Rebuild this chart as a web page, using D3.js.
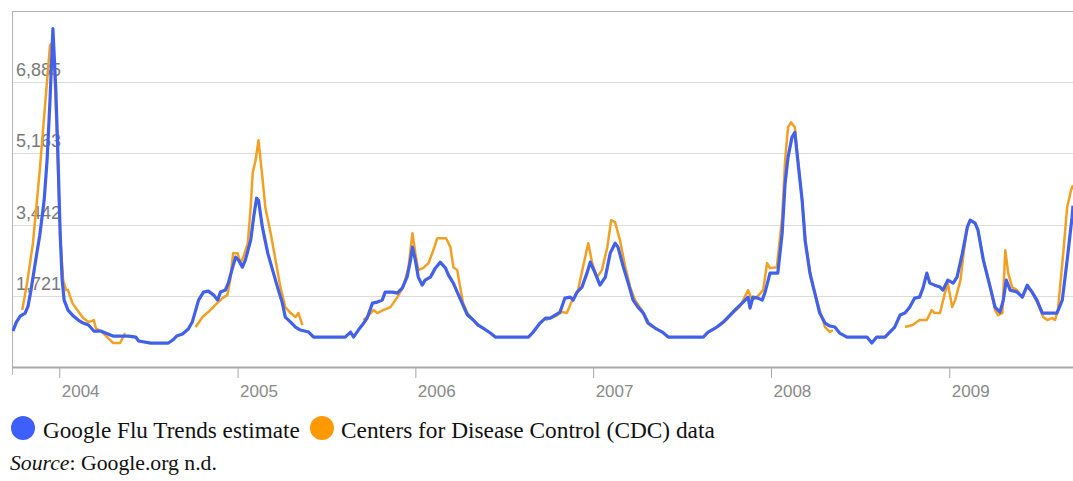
<!DOCTYPE html>
<html><head><meta charset="utf-8">
<script src="https://cdn.jsdelivr.net/npm/d3@7"></script>
<style>body{margin:0;background:#fff}svg{display:block}</style>
</head><body><svg id="c" width="1073" height="481"></svg>
<script>
const yearTicks = ["2004-01-01","2005-01-01","2006-01-01","2007-01-01","2008-01-01","2009-01-01"];
const yearLabels = ["2004","2005","2006","2007","2008","2009"];
const gridValues = [1721.25, 3442.5, 5163.75, 6885];
const gridLabels = ["1,721","3,442","5,163","6,885"];
const xDomain = ["2003-09-26","2009-09-12"];
const yMax = 8606.25;

const googleDates = ["2003-09-28","2003-10-05","2003-10-13","2003-10-23","2003-10-29","2003-11-04","2003-11-12","2003-11-22","2003-12-01","2003-12-07","2003-12-13","2003-12-19","2003-12-25","2003-12-29","2004-01-03","2004-01-07","2004-01-11","2004-01-19","2004-01-30","2004-02-09","2004-02-19","2004-03-01","2004-03-12","2004-03-26","2004-04-05","2004-04-20","2004-05-22","2004-06-06","2004-06-12","2004-07-07","2004-08-12","2004-08-21","2004-08-29","2004-09-10","2004-09-22","2004-09-30","2004-10-13","2004-10-23","2004-11-02","2004-11-13","2004-11-21","2004-11-27","2004-12-07","2004-12-13","2004-12-22","2004-12-28","2005-01-03","2005-01-11","2005-01-17","2005-01-28","2005-02-03","2005-02-09","2005-02-13","2005-02-21","2005-03-04","2005-03-14","2005-03-24","2005-04-03","2005-04-09","2005-04-20","2005-04-30","2005-05-10","2005-05-27","2005-06-06","2005-08-10","2005-08-21","2005-08-27","2005-09-06","2005-09-14","2005-09-24","2005-10-05","2005-10-15","2005-10-25","2005-10-31","2005-11-15","2005-11-25","2005-12-05","2005-12-15","2005-12-22","2005-12-26","2006-01-01","2006-01-07","2006-01-15","2006-01-21","2006-02-01","2006-02-11","2006-02-21","2006-03-04","2006-03-10","2006-03-20","2006-03-28","2006-04-07","2006-04-18","2006-04-30","2006-05-10","2006-05-20","2006-06-04","2006-06-14","2006-08-21","2006-08-31","2006-09-14","2006-09-25","2006-10-05","2006-10-15","2006-10-25","2006-11-04","2006-11-15","2006-11-21","2006-11-29","2006-12-09","2006-12-20","2006-12-26","2007-01-05","2007-01-15","2007-01-26","2007-02-05","2007-02-15","2007-02-21","2007-03-04","2007-03-14","2007-03-24","2007-04-03","2007-04-14","2007-04-24","2007-05-08","2007-05-23","2007-06-04","2007-08-15","2007-08-25","2007-09-12","2007-09-25","2007-10-09","2007-10-23","2007-11-05","2007-11-15","2007-11-19","2007-11-25","2007-12-05","2007-12-14","2007-12-20","2007-12-30","2008-01-09","2008-01-15","2008-01-24","2008-01-30","2008-02-05","2008-02-13","2008-02-19","2008-02-25","2008-03-05","2008-03-11","2008-03-21","2008-03-31","2008-04-10","2008-04-21","2008-05-01","2008-05-11","2008-05-21","2008-06-05","2008-07-16","2008-07-26","2008-08-05","2008-08-22","2008-09-01","2008-09-11","2008-09-22","2008-10-02","2008-10-12","2008-10-22","2008-11-01","2008-11-08","2008-11-16","2008-11-22","2008-12-02","2008-12-13","2008-12-19","2008-12-29","2009-01-09","2009-01-17","2009-01-28","2009-02-07","2009-02-13","2009-02-23","2009-03-01","2009-03-12","2009-03-26","2009-04-05","2009-04-15","2009-04-22","2009-04-28","2009-05-06","2009-05-20","2009-05-31","2009-06-10","2009-06-20","2009-06-30","2009-07-11","2009-07-21","2009-08-10","2009-08-21","2009-08-31","2009-09-10","2009-09-12"];
const googleValues = [869,1086,1231,1304,1473,1859,2462,3186,4031,4997,6445,8183,6687,5238,3186,2100,1617,1376,1231,1135,1062,1014,869,869,821,748,748,724,628,579,579,652,748,797,917,1086,1617,1811,1835,1738,1617,1811,1859,2028,2414,2655,2583,2414,2583,3066,3621,4080,4031,3380,2752,2342,1931,1545,1207,1086,966,893,845,724,724,845,724,893,1014,1183,1545,1569,1617,1811,1811,1786,1907,2173,2583,2897,2583,2173,1979,2100,2173,2390,2535,2390,2221,2028,1811,1545,1255,1135,1014,941,821,724,724,845,1062,1183,1183,1255,1328,1666,1690,1617,1811,1931,2293,2535,2269,1979,2173,2752,2993,2897,2414,2028,1617,1448,1304,1062,941,845,724,724,845,966,1086,1255,1424,1569,1690,1424,1690,1666,1617,1811,2269,2269,2269,3235,4442,5069,5552,5673,4997,4031,3066,2269,1786,1304,1062,990,966,821,724,724,579,724,724,845,966,1255,1304,1448,1666,1690,1907,2269,2028,1979,1931,1859,2100,2028,2173,2752,3380,3549,3476,3307,2583,1931,1448,1328,1617,2100,1859,1811,1690,1979,1811,1617,1304,1304,1304,1617,2583,3621,3900];

const cdcDates = ["2003-10-17","2003-10-27","2003-11-08","2003-11-22","2003-12-02","2003-12-13","2003-12-16","2003-12-22","2003-12-28","2004-01-03","2004-01-09","2004-01-15","2004-01-19","2004-01-28","2004-02-07","2004-02-19","2004-03-01","2004-03-12","2004-03-16","2004-03-31","2004-04-21","2004-05-05","2004-05-15","2004-07-01",
"2004-10-07","2004-10-21","2004-11-02","2004-11-16","2004-12-01","2004-12-11","2004-12-17","2004-12-23","2005-01-01","2005-01-07","2005-01-13","2005-01-22","2005-01-28","2005-02-01","2005-02-07","2005-02-13","2005-02-21","2005-02-27","2005-03-10","2005-03-20","2005-03-30","2005-04-09","2005-04-20","2005-04-30","2005-05-06","2005-05-14","2005-07-01",
"2005-09-16","2005-09-24","2005-10-07","2005-10-15","2005-10-27","2005-11-11","2005-11-25","2005-12-07","2005-12-18","2005-12-26","2006-01-01","2006-01-07","2006-01-17","2006-01-28","2006-02-07","2006-02-15","2006-03-05","2006-03-14","2006-03-20","2006-03-28","2006-04-03","2006-04-09","2006-04-18","2006-04-30","2006-05-10","2006-07-01",
"2006-09-25","2006-10-05","2006-10-17","2006-10-29","2006-11-08","2006-11-19","2006-12-01","2006-12-11","2006-12-22","2006-12-30","2007-01-09","2007-01-19","2007-01-30","2007-02-07","2007-02-15","2007-02-25","2007-03-08","2007-03-18","2007-03-28","2007-04-11","2007-04-22","2007-05-02","2007-07-01",
"2007-09-14","2007-09-29","2007-10-13","2007-10-30","2007-11-15","2007-11-23","2007-12-05","2007-12-16","2007-12-24","2007-12-30","2008-01-13","2008-01-24","2008-01-30","2008-02-05","2008-02-11","2008-02-19","2008-02-25","2008-03-05","2008-03-13","2008-03-23","2008-04-04","2008-04-13","2008-04-21","2008-05-01","2008-05-07","2008-07-01",
"2008-10-02","2008-10-18","2008-11-01","2008-11-16","2008-11-26","2008-12-02","2008-12-13","2008-12-23","2008-12-29","2009-01-07","2009-01-13","2009-01-24","2009-01-30","2009-02-07","2009-02-13","2009-02-23","2009-03-01","2009-03-12","2009-03-26","2009-04-05","2009-04-11","2009-04-20","2009-04-26","2009-05-02","2009-05-10","2009-05-20","2009-05-31","2009-06-10","2009-06-20","2009-06-30","2009-07-13","2009-07-21","2009-07-31","2009-08-06","2009-08-12","2009-08-23","2009-08-31","2009-09-08","2009-09-12"];
const cdcValues = [1376,2028,2993,4756,6204,7773,7820,7200,5300,3150,2100,1859,1859,1545,1376,1183,1086,1135,941,821,579,579,821,null,
966,1207,1328,1497,1666,1738,2100,2752,2752,2511,2655,2993,3862,4683,4997,5480,4587,3862,3235,2583,1931,1448,1304,1207,1304,1014,null,
1135,1207,1376,1304,1376,1448,1690,1931,2414,3235,2752,2342,2390,2511,2824,3114,3114,2897,2414,2342,1931,1545,1304,1135,990,null,
1135,1183,1231,1328,1304,1617,1859,2414,2993,2511,2173,2342,2897,3549,3500,3066,2414,1931,1617,1376,1062,966,null,
966,1110,1280,1473,1859,1617,1714,1859,2511,2390,2414,3621,4997,5794,5914,5794,5069,4031,2945,2148,1617,1255,966,845,893,null,
966,1014,1135,1135,1376,1304,1304,1786,2028,1448,1617,2100,2704,3380,3549,3476,3307,2583,1931,1376,1255,1304,2824,2269,1931,1859,1690,1931,1811,1569,1207,1135,1183,1135,1376,2752,3862,4273,4394];

const seriesNames = ["Google Flu Trends estimate","Centers for Disease Control (CDC) data"];
const seriesColors = ["#3f5ffd","#ff9900"];

const parse = d3.timeParse("%Y-%m-%d");
const svg = d3.select("#c");
const L = 12, R = 1073, T = 11, B = 367;
const x = d3.scaleTime().domain(xDomain.map(parse)).range([L, R]);
const y = d3.scaleLinear().domain([0, yMax]).range([B, T]);

svg.append("defs").append("clipPath").attr("id","clip")
  .append("rect").attr("x",L).attr("y",T-2).attr("width",R-L).attr("height",B-T+2);

// gridlines
svg.append("g").selectAll("line").data(gridValues).join("line")
  .attr("x1",L).attr("x2",R).attr("y1",d=>Math.round(y(d))+0.5).attr("y2",d=>Math.round(y(d))+0.5)
  .attr("stroke","#dcdcdc").attr("stroke-width",1);
// border top/left
svg.append("line").attr("x1",L).attr("x2",R).attr("y1",T+0.5).attr("y2",T+0.5).attr("stroke","#b4b4b4");
svg.append("line").attr("x1",L+0.5).attr("x2",L+0.5).attr("y1",T).attr("y2",B+8).attr("stroke","#b4b4b4");

// y labels
svg.append("g").selectAll("text").data(gridValues).join("text")
  .attr("x",16).attr("y",d=>Math.round(y(d))-6)
  .attr("font-family","Liberation Sans, Arial, sans-serif").attr("font-size",18)
  .attr("fill","#7a7a7a").text((d,i)=>gridLabels[i]);

// x axis
const xAxis = d3.axisBottom(x).tickValues(yearTicks.map(parse)).tickSize(11).tickFormat((d,i)=>yearLabels[i]);
const gx = svg.append("g").attr("transform",`translate(0,${B})`).call(xAxis);
gx.select(".domain").attr("stroke","#a8a8a8").attr("stroke-width",2).attr("d",`M${L},0.5H${R}`);
gx.selectAll(".tick line").attr("stroke","#a8a8a8");
gx.selectAll(".tick text").attr("text-anchor","start").attr("x",2).attr("y",18).attr("dy","0.71em")
  .attr("font-family","Liberation Sans, Arial, sans-serif").attr("font-size",17).attr("fill","#8a8a8a");

// lines
const plot = svg.append("g").attr("clip-path","url(#clip)");
const cdcData = cdcDates.map((d,i)=>({date:parse(d), v:cdcValues[i]}));
const gData = googleDates.map((d,i)=>({date:parse(d), v:googleValues[i]}));
const line = d3.line().defined(d=>d.v!==null).x(d=>x(d.date)).y(d=>y(d.v));
plot.append("path").datum(cdcData).attr("d",line).attr("fill","none")
  .attr("stroke","#f2a024").attr("stroke-width",2.5).attr("stroke-linejoin","round");
plot.append("path").datum(gData).attr("d",line).attr("fill","none")
  .attr("stroke","#4161ea").attr("stroke-width",3.2).attr("stroke-linejoin","round");

// legend
const legendX = [23, 322];
const legendTextX = [43, 341];
const legendW = [257, 374];
seriesNames.forEach((n,i)=>{
  svg.append("circle").attr("cx",legendX[i]).attr("cy",428).attr("r",12).attr("fill",seriesColors[i]);
  const t = svg.append("text").attr("x",legendTextX[i]).attr("y",438)
    .attr("font-family","Liberation Serif, Times New Roman, serif").attr("font-size",22).attr("fill","#111").text(n);
  const w = t.node().getComputedTextLength();
  t.attr("font-size", 22*legendW[i]/w);
});
const src = svg.append("text").attr("x",10).attr("y",470)
  .attr("font-family","Liberation Serif, Times New Roman, serif").attr("font-size",22).attr("fill","#111");
src.append("tspan").attr("font-style","italic").text("Source");
src.append("tspan").text(": Google.org n.d.");
const sw = src.node().getComputedTextLength();
src.attr("font-size", 22*207/sw);
</script>
</body></html>
